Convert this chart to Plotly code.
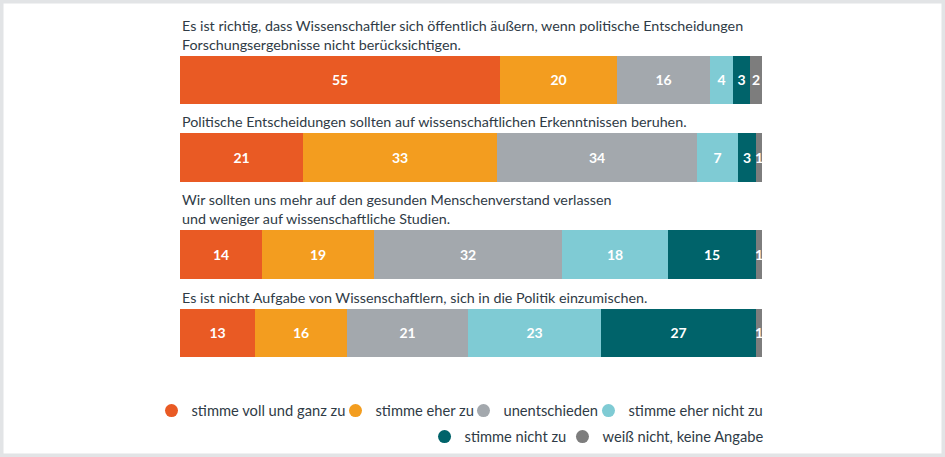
import plotly.graph_objects as go
from plotly.subplots import make_subplots

questions = [
    "Es ist richtig, dass Wissenschaftler sich öffentlich äußern, wenn politische Entscheidungen<br>Forschungsergebnisse nicht berücksichtigen.",
    "Politische Entscheidungen sollten auf wissenschaftlichen Erkenntnissen beruhen.",
    "Wir sollten uns mehr auf den gesunden Menschenverstand verlassen<br>und weniger auf wissenschaftliche Studien.",
    "Es ist nicht Aufgabe von Wissenschaftlern, sich in die Politik einzumischen.",
]
answers = [
    "stimme voll und ganz zu",
    "stimme eher zu",
    "unentschieden",
    "stimme eher nicht zu",
    "stimme nicht zu",
    "weiß nicht, keine Angabe",
]
voll = [55, 21, 14, 13]
eher = [20, 33, 19, 16]
unentschieden = [16, 34, 32, 21]
eher_nicht = [4, 7, 18, 23]
nicht = [3, 3, 15, 27]
weiss_nicht = [2, 1, 1, 1]
series = [voll, eher, unentschieden, eher_nicht, nicht, weiss_nicht]

colors = ["#E95A24", "#F39D1F", "#A3A8AD", "#7FCBD4", "#00636A", "#7D7D7D"]
text_color = "#2F3B46"
font = "Lato"

# margins are zero, so paper = whole 945x457 figure
x_domain = [180 / 945, 762 / 945]
y_domains = [[0.7724, 0.8775], [0.6018, 0.7090], [0.3895, 0.4967], [0.2188, 0.3239]]
# one small legend per answer so both rows end flush right under the bars
legend_x = [0.3709, 0.5074, 0.6386, 0.8132, 0.6048, 0.8132]
legend_y = [0.1007, 0.1007, 0.1007, 0.1007, 0.0438, 0.0438]

fig = make_subplots(rows=4, cols=1, shared_xaxes=True)

for i, q in enumerate(questions):
    for j, ans in enumerate(answers):
        v = series[j][i]
        fig.add_trace(
            go.Bar(
                x=[v], y=[""], orientation="h", width=1,
                marker=dict(color=colors[j], line_width=0),
                text=[str(v)], textposition="inside",
                insidetextanchor="middle", constraintext="none",
                textfont=dict(color="white", size=14, family=font, weight="bold"),
                showlegend=False, hoverinfo="skip",
            ),
            row=i + 1, col=1,
        )
    fig.add_annotation(
        text=q, xref="x domain" if i == 0 else f"x{i + 1} domain",
        yref="y domain" if i == 0 else f"y{i + 1} domain",
        x=0, y=1, xanchor="left", yanchor="bottom", yshift=1,
        align="left", showarrow=False,
        font=dict(size=14.3, color=text_color, family=font),
    )

# legend entries as circles
for j, ans in enumerate(answers):
    name = "legend" if j == 0 else f"legend{j + 1}"
    fig.add_trace(go.Scatter(
        x=[None], y=[None], mode="markers", name=ans,
        marker=dict(color=colors[j], size=13),
        legend=name, hoverinfo="skip",
    ))
    fig.update_layout({name: dict(
        orientation="h", xanchor="right", x=legend_x[j],
        yanchor="middle", y=legend_y[j],
        font=dict(size=14.7, color=text_color, family=font),
        itemwidth=30, bgcolor="rgba(0,0,0,0)", traceorder="normal",
    )})

for k in range(4):
    sfx = "" if k == 0 else str(k + 1)
    fig.update_layout({
        "yaxis" + sfx: dict(domain=y_domains[k]),
        "xaxis" + sfx: dict(domain=x_domain),
    })

fig.update_yaxes(visible=False, range=[-0.5, 0.5], fixedrange=True)
fig.update_xaxes(visible=False, range=[0, 100], fixedrange=True)

fig.update_layout(
    width=945, height=457,
    margin=dict(l=0, r=0, t=0, b=0),
    barmode="stack", barnorm="percent", bargap=0,
    paper_bgcolor="white", plot_bgcolor="white",
    uniformtext=dict(minsize=14, mode="show"),
    shapes=[dict(
        type="rect", xref="paper", yref="paper",
        x0=0, x1=1, y0=0, y1=1,
        line=dict(color="#E2E4E6", width=7), fillcolor="rgba(0,0,0,0)",
        layer="above",
    )],
)

fig.write_html(
    "out.html",
    config={"displayModeBar": False},
    post_script="document.body.style.margin='0';",
)
